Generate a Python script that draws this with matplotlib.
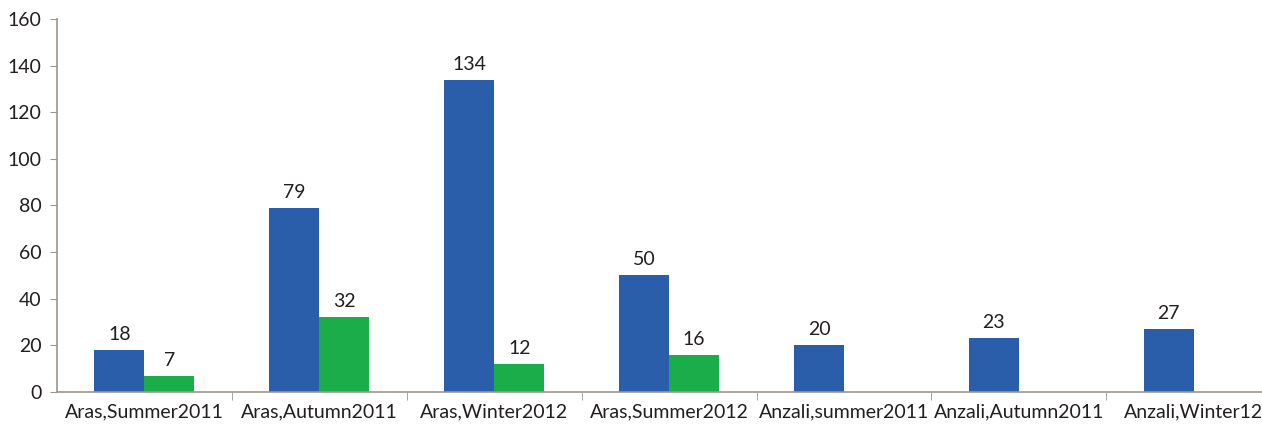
import matplotlib
matplotlib.use("Agg")
import matplotlib.pyplot as plt
import numpy as np

categories = ["Aras,Summer2011", "Aras,Autumn2011", "Aras,Winter2012", "Aras,Summer2012",
              "Anzali,summer2011", "Anzali,Autumn2011", "Anzali,Winter12"]
blue_values = [18, 79, 134, 50, 20, 23, 27]
green_values = [7, 32, 12, 16, None, None, None]
yticks = [0, 20, 40, 60, 80, 100, 120, 140, 160]

blue = "#2a5daa"
green = "#1aad4a"
text_color = "#231f20"
spine_color = "#9e958d"

plt.rcParams['font.family'] = ['Lato', 'DejaVu Sans']
FS = 14

W, H = 1262, 429
fig = plt.figure(figsize=(W/100, H/100), dpi=100)
ax = fig.add_axes([57/W, (H-392)/H, (W-57)/W, (392-19)/H])

x = np.arange(len(categories))
bw = 0.286
b1 = ax.bar(x - bw/2, blue_values, width=bw, color=blue)
gx = [xi for xi, v in zip(x, green_values) if v is not None]
gv = [v for v in green_values if v is not None]
b2 = ax.bar(np.array(gx) + bw/2, gv, width=bw, color=green)

for rect, v in zip(b1, blue_values):
    ax.text(rect.get_x() + rect.get_width()/2, v + 3, str(v), ha='center', va='bottom',
            fontsize=FS, color=text_color)
for rect, v in zip(b2, gv):
    ax.text(rect.get_x() + rect.get_width()/2, v + 3, str(v), ha='center', va='bottom',
            fontsize=FS, color=text_color)

ax.set_xlim(-0.5, 6.39)
ax.set_ylim(0, 160)
ax.set_yticks(yticks)
ax.set_yticklabels([str(t) for t in yticks], fontsize=FS, color=text_color)

ax.set_xticks(x)
ax.set_xticklabels(categories, fontsize=FS, color=text_color)
ax.tick_params(axis='x', which='major', length=0, pad=8)
ax.set_xticks(np.arange(0.5, 6.5, 1), minor=True)
ax.tick_params(axis='x', which='minor', length=6, color=spine_color, direction='out')
ax.tick_params(axis='y', length=5, color=spine_color, direction='out', pad=6)

for s in ['top', 'right']:
    ax.spines[s].set_visible(False)
for s in ['left', 'bottom']:
    ax.spines[s].set_color(spine_color)
    ax.spines[s].set_linewidth(1.2)

fig.savefig("out.png", dpi=100, facecolor='white')
